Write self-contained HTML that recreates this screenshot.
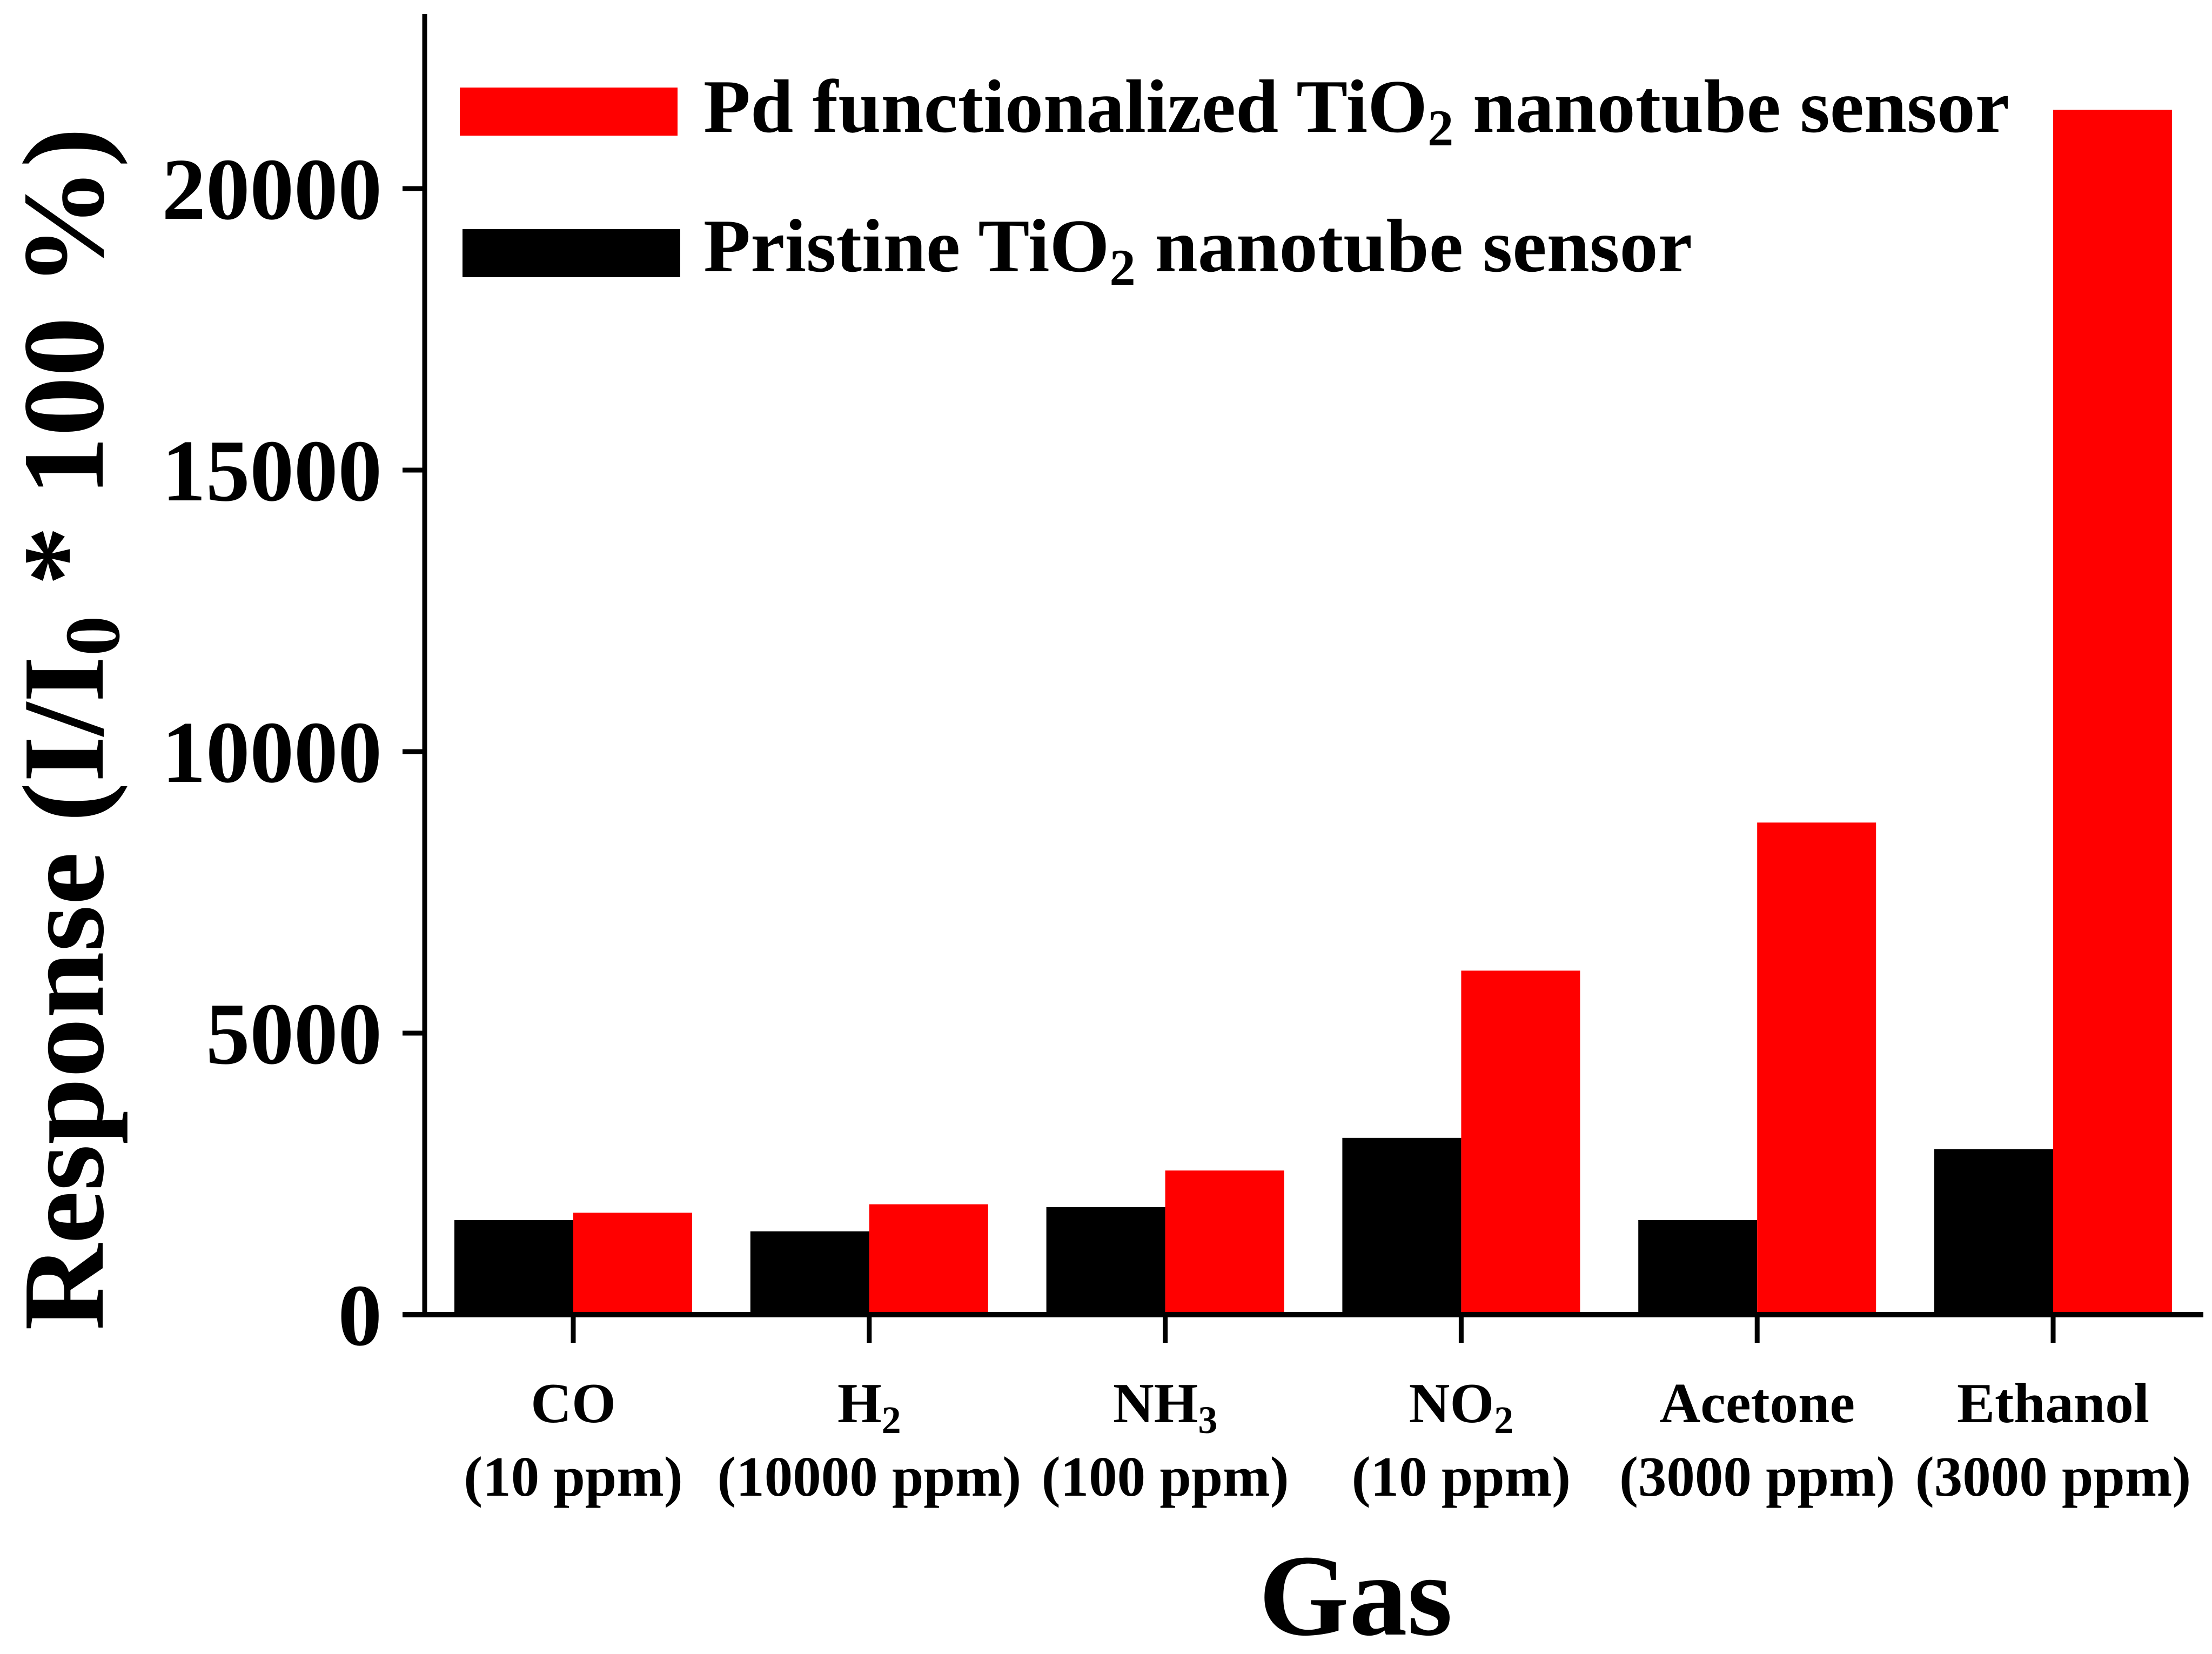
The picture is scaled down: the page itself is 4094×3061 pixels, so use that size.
<!DOCTYPE html>
<html><head><meta charset="utf-8"><style>html,body{margin:0;padding:0;background:#fff}svg{display:block}text{font-family:"Liberation Serif",serif;font-weight:bold;fill:#000}</style></head>
<body>
<svg id="chart" width="4094" height="3061" viewBox="0 0 4094 3061" xmlns="http://www.w3.org/2000/svg">
<g id="bars"></g>
<line x1="786" y1="26" x2="786" y2="2438" stroke="#000" stroke-width="9"/>
<line x1="745" y1="2433" x2="4078" y2="2433" stroke="#000" stroke-width="10"/>
<g id="yticks"></g>
<g id="xticks"></g>
<g>
<rect x="851" y="162" width="403" height="89" fill="#ff0000"/>
<text x="1302" y="244" font-size="140" textLength="2417" lengthAdjust="spacingAndGlyphs">Pd functionalized TiO<tspan font-size="95" dy="25">2</tspan><tspan dy="-25"> nanotube sensor</tspan></text>
<rect x="856" y="424" width="403" height="89" fill="#000"/>
<text x="1302" y="502" font-size="140" textLength="1830" lengthAdjust="spacingAndGlyphs">Pristine TiO<tspan font-size="95" dy="25">2</tspan><tspan dy="-25"> nanotube sensor</tspan></text>
</g>
<text x="2509" y="3025" font-size="215" text-anchor="middle">Gas</text>
<text transform="translate(190,1349) rotate(-90)" x="0" y="0" font-size="215" text-anchor="middle" textLength="2226" lengthAdjust="spacingAndGlyphs">Response (I/I<tspan font-size="145" dy="30">0</tspan><tspan dy="-30"> * 100 %)</tspan></text>
</svg>
<script>
const categories = ["CO", "H2", "NH3", "NO2", "Acetone", "Ethanol"];
const concentrations = ["(10 ppm)", "(10000 ppm)", "(100 ppm)", "(10 ppm)", "(3000 ppm)", "(3000 ppm)"];
const pristineValues = [1680, 1480, 1910, 3140, 1680, 2940];
const pdValues = [1810, 1960, 2560, 6110, 8740, 21400];
const yTicks = [0, 5000, 10000, 15000, 20000];

const NS = "http://www.w3.org/2000/svg";
const y0 = 2433, pxPerUnit = 521 / 5000;
function yScale(v) { return y0 - v * pxPerUnit; }
function xScale(i) { return 1061 + i * 547.8; }
const barW = 220;

const bars = document.getElementById('bars');
function mk(tag, attrs, parent) {
  const el = document.createElementNS(NS, tag);
  for (const k in attrs) el.setAttribute(k, attrs[k]);
  parent.appendChild(el);
  return el;
}
categories.forEach((c, i) => {
  const cx = xScale(i);
  const b = mk('rect', {x: cx - barW, y: yScale(pristineValues[i]), width: barW, height: y0 - yScale(pristineValues[i]), fill: '#000'}, bars);
  
  
  const r = mk('rect', {x: cx, y: yScale(pdValues[i]), width: barW, height: y0 - yScale(pdValues[i]), fill: '#ff0000'}, bars);
  
  
});

const yt = document.getElementById('yticks');
yTicks.forEach(v => {
  const l = mk('line', {x1: 745, x2: 786, y1: yScale(v), y2: yScale(v), stroke: '#000', 'stroke-width': 9}, yt);
  
  
  const t = mk('text', {x: 707, y: yScale(v) + 56, 'font-size': 163, 'text-anchor': 'end'}, yt);
  
  
  t.textContent = String(v);
});

const xt = document.getElementById('xticks');
const subs = {"H2": ["H", "2"], "NH3": ["NH", "3"], "NO2": ["NO", "2"]};
categories.forEach((c, i) => {
  const cx = xScale(i);
  const l = mk('line', {x1: cx, x2: cx, y1: y0, y2: 2485, stroke: '#000', 'stroke-width': 9}, xt);
  
  
  const t = mk('text', {x: cx, y: 2632, 'font-size': 105, 'text-anchor': 'middle'}, xt);
  
  
  if (subs[c]) {
    t.appendChild(document.createTextNode(subs[c][0]));
    const s = mk('tspan', {'font-size': 72, dy: 20}, t);
    s.textContent = subs[c][1];
  } else {
    t.textContent = c;
  }
  const t2 = mk('text', {x: cx, y: 2768, 'font-size': 105, 'text-anchor': 'middle'}, xt);
  
  
  t2.textContent = concentrations[i];
});
</script>
</body></html>
